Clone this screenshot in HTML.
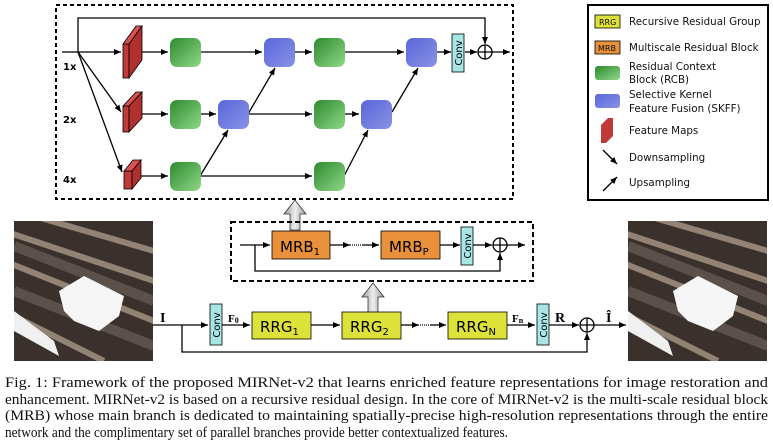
<!DOCTYPE html>
<html><head><meta charset="utf-8"><style>
html,body{margin:0;padding:0;background:#fff;width:773px;height:445px;overflow:hidden}
svg{display:block}
.s{font-family:"DejaVu Sans","Liberation Sans",sans-serif}
.cap{font-family:"Liberation Serif",serif;font-size:14.5px;fill:#111}
</style></head><body>
<svg width="773" height="445" viewBox="0 0 773 445" xmlns="http://www.w3.org/2000/svg">
<defs>
<marker id="a" markerWidth="8" markerHeight="8" refX="7" refY="4" orient="auto" markerUnits="userSpaceOnUse"><path d="M0,1 L7,4 L0,7 z" fill="#000"/></marker>
<linearGradient id="g" x1="0" y1="0" x2="1" y2="1"><stop offset="0" stop-color="#2d8a2d"/><stop offset="1" stop-color="#8fd88a"/></linearGradient>
<linearGradient id="b" x1="0" y1="0" x2="1" y2="1"><stop offset="0" stop-color="#5a66d8"/><stop offset="1" stop-color="#8892e6"/></linearGradient>
<linearGradient id="ga" x1="0" y1="0" x2="1" y2="0"><stop offset="0" stop-color="#999"/><stop offset="0.5" stop-color="#eee"/><stop offset="1" stop-color="#999"/></linearGradient>
<clipPath id="c"><rect x="0" y="0" width="139" height="140"/></clipPath>
<g id="img">
<g clip-path="url(#c)">
<rect x="0" y="0" width="139" height="140" fill="#3a302c"/>
<g stroke="#a89888" stroke-width="6" opacity="0.8">
<line x1="-10" y1="10" x2="140" y2="60"/><line x1="-10" y1="40" x2="140" y2="100"/><line x1="20" y1="-5" x2="140" y2="30"/><line x1="-10" y1="90" x2="90" y2="140"/>
</g>
<g stroke="#6a6058" stroke-width="10" opacity="0.7"><line x1="0" y1="25" x2="140" y2="80"/><line x1="0" y1="70" x2="140" y2="125"/></g>
<polygon points="45,70 70,55 110,75 105,95 85,110 60,100 50,90" fill="#f6f6f6"/>
<polygon points="0,90 40,120 45,135 0,110" fill="#f0f0f0"/>
</g>
</g>
</defs>

<rect x="56" y="5" width="457" height="194" fill="none" stroke="#000" stroke-width="2" stroke-dasharray="4,3"/>
<g fill="none" stroke="#000" stroke-width="1.3">
<polyline points="62,52 78,52"/>
<polyline points="78,52 78,18 485,18 485,44" marker-end="url(#a)"/>
<line x1="78" y1="52" x2="121" y2="52" marker-end="url(#a)"/>
<line x1="78" y1="52" x2="121" y2="112" marker-end="url(#a)"/>
<line x1="78" y1="52" x2="122" y2="172" marker-end="url(#a)"/>
<line x1="136" y1="52" x2="168" y2="52" marker-end="url(#a)"/>
<line x1="200" y1="52" x2="262" y2="52" marker-end="url(#a)"/>
<line x1="295" y1="52" x2="312" y2="52" marker-end="url(#a)"/>
<line x1="344" y1="52" x2="404" y2="52" marker-end="url(#a)"/>
<line x1="437" y1="52" x2="451" y2="52" marker-end="url(#a)"/>
<line x1="465" y1="52" x2="477" y2="52" marker-end="url(#a)"/>
<line x1="492" y1="52" x2="510" y2="52" marker-end="url(#a)"/>
<line x1="136" y1="114" x2="168" y2="114" marker-end="url(#a)"/>
<line x1="200" y1="114" x2="216" y2="114" marker-end="url(#a)"/>
<line x1="248" y1="114" x2="312" y2="114" marker-end="url(#a)"/>
<line x1="344" y1="114" x2="359" y2="114" marker-end="url(#a)"/>
<line x1="136" y1="176" x2="168" y2="176" marker-end="url(#a)"/>
<line x1="200" y1="176" x2="312" y2="176" marker-end="url(#a)"/>
<line x1="200" y1="176" x2="228" y2="130" marker-end="url(#a)"/>
<line x1="248" y1="114" x2="275" y2="68" marker-end="url(#a)"/>
<line x1="344" y1="176" x2="368" y2="130" marker-end="url(#a)"/>
<line x1="392" y1="112" x2="418" y2="68" marker-end="url(#a)"/>
</g>
<g stroke="#000" stroke-width="0.8">
<rect x="123" y="44" width="6" height="34" fill="#c03a3a"/><polygon points="129,44 142,26 142,60 129,78" fill="#b03030"/><polygon points="123,44 136,26 142,26 129,44" fill="#d85050"/>
<rect x="123" y="106" width="6" height="26" fill="#c03a3a"/><polygon points="129,106 142,92 142,118 129,132" fill="#b03030"/><polygon points="123,106 136,92 142,92 129,106" fill="#d85050"/>
<rect x="124" y="171" width="8" height="18" fill="#c03a3a"/><polygon points="132,171 141,160 141,178 132,189" fill="#b03030"/><polygon points="124,171 133,160 141,160 132,171" fill="#d85050"/>
</g>
<g fill="url(#g)">
<rect x="170" y="38" width="31" height="29" rx="7"/><rect x="314" y="38" width="31" height="29" rx="7"/>
<rect x="170" y="100" width="31" height="29" rx="7"/><rect x="314" y="100" width="31" height="29" rx="7"/>
<rect x="170" y="162" width="31" height="29" rx="7"/><rect x="314" y="162" width="31" height="29" rx="7"/>
</g>
<g fill="url(#b)">
<rect x="264" y="38" width="31" height="29" rx="7"/><rect x="406" y="38" width="31" height="29" rx="7"/>
<rect x="218" y="100" width="31" height="29" rx="7"/><rect x="361" y="100" width="31" height="29" rx="7"/>
</g>
<rect x="452" y="34" width="12" height="38" fill="#a8e6e6" stroke="#000" stroke-width="0.8"/>
<text class="s" font-size="10" transform="translate(462,53) rotate(-90)" text-anchor="middle" fill="#000">Conv</text>
<circle cx="485" cy="52" r="7" fill="#fff" stroke="#000" stroke-width="1.3"/><path d="M478,52h14M485,45v14" stroke="#000" stroke-width="1.3"/>
<g class="s" font-size="10" font-weight="bold"><text x="63" y="70">1x</text><text x="63" y="123">2x</text><text x="63" y="183">4x</text></g>

<rect x="588" y="5" width="180" height="195" fill="none" stroke="#000" stroke-width="2"/>
<g class="s" font-size="10.3" fill="#111">
<rect x="595" y="15" width="25" height="13" fill="#dde23a" stroke="#000" stroke-width="0.8"/><text x="599" y="25" font-size="8">RRG</text>
<text x="629" y="25">Recursive Residual Group</text>
<rect x="595" y="41" width="25" height="13" fill="#e8903a" stroke="#000" stroke-width="0.8"/><text x="598" y="51" font-size="8">MRB</text>
<text x="629" y="51">Multiscale Residual Block</text>
<rect x="595" y="66" width="25" height="14" rx="3" fill="url(#g)"/>
<text x="629" y="70">Residual Context</text><text x="629" y="83">Block (RCB)</text>
<rect x="595" y="94" width="25" height="14" rx="3" fill="url(#b)"/>
<text x="629" y="98">Selective Kernel</text><text x="629" y="112">Feature Fusion (SKFF)</text>
<polygon points="601,125 608,118 613,118 613,136 606,143 601,143" fill="#c03a3a"/>
<text x="629" y="134">Feature Maps</text>
<line x1="603" y1="150" x2="617" y2="164" stroke="#000" stroke-width="1.3" marker-end="url(#a)"/>
<text x="629" y="161">Downsampling</text>
<line x1="603" y1="191" x2="617" y2="177" stroke="#000" stroke-width="1.3" marker-end="url(#a)"/>
<text x="629" y="186">Upsampling</text>
</g>

<polygon points="290,214 290,230 300,230 300,214 306,214 295,200 284,214" fill="url(#ga)" stroke="#333" stroke-width="0.8"/>
<rect x="231" y="222" width="302" height="59" fill="none" stroke="#000" stroke-width="2" stroke-dasharray="5,3"/>
<g fill="none" stroke="#000" stroke-width="1.3">
<line x1="240" y1="245" x2="270" y2="245" marker-end="url(#a)"/>
<polyline points="255,245 255,271 500,271 500,253" marker-end="url(#a)"/>
<line x1="330" y1="245" x2="350" y2="245" marker-end="url(#a)"/>
<line x1="350" y1="245" x2="362" y2="245" stroke-dasharray="1,1"/>
<line x1="362" y1="245" x2="379" y2="245" marker-end="url(#a)"/>
<line x1="440" y1="245" x2="460" y2="245" marker-end="url(#a)"/>
<line x1="473" y1="245" x2="492" y2="245" marker-end="url(#a)"/>
<line x1="507" y1="245" x2="525" y2="245" marker-end="url(#a)"/>
</g>
<rect x="272" y="231" width="58" height="28" fill="#e8903a" stroke="#000" stroke-width="0.8"/>
<rect x="381" y="231" width="59" height="28" fill="#e8903a" stroke="#000" stroke-width="0.8"/>
<text class="s" x="280" y="252" font-size="15">MRB<tspan font-size="10" dy="3">1</tspan></text>
<text class="s" x="389" y="252" font-size="15">MRB<tspan font-size="10" dy="3">P</tspan></text>
<rect x="461" y="227" width="12" height="38" fill="#a8e6e6" stroke="#000" stroke-width="0.8"/>
<text class="s" font-size="10" transform="translate(471,246) rotate(-90)" text-anchor="middle">Conv</text>
<circle cx="500" cy="245" r="7" fill="#fff" stroke="#000" stroke-width="1.3"/><path d="M493,245h14M500,238v14" stroke="#000" stroke-width="1.3"/>

<polygon points="368,297 368,313 378,313 378,297 384,297 373,283 362,297" fill="url(#ga)" stroke="#333" stroke-width="0.8"/>

<g fill="none" stroke="#000" stroke-width="1.3">
<line x1="153" y1="325" x2="208" y2="325" marker-end="url(#a)"/>
<polyline points="182,325 182,352 587,352 587,333" marker-end="url(#a)"/>
<line x1="222" y1="325" x2="250" y2="325" marker-end="url(#a)"/>
<line x1="311" y1="325" x2="340" y2="325" marker-end="url(#a)"/>
<line x1="401" y1="325" x2="419" y2="325" marker-end="url(#a)"/>
<line x1="420" y1="325" x2="430" y2="325" stroke-dasharray="1,1"/>
<line x1="430" y1="325" x2="446" y2="325" marker-end="url(#a)"/>
<line x1="507" y1="325" x2="535" y2="325" marker-end="url(#a)"/>
<line x1="549" y1="325" x2="579" y2="325" marker-end="url(#a)"/>
<line x1="594" y1="325" x2="626" y2="325" marker-end="url(#a)"/>
</g>
<rect x="210" y="304" width="12" height="41" fill="#a8e6e6" stroke="#000" stroke-width="0.8"/>
<text class="s" font-size="10" transform="translate(220,325) rotate(-90)" text-anchor="middle">Conv</text>
<rect x="537" y="304" width="12" height="41" fill="#a8e6e6" stroke="#000" stroke-width="0.8"/>
<text class="s" font-size="10" transform="translate(547,325) rotate(-90)" text-anchor="middle">Conv</text>
<g fill="#dde23a" stroke="#000" stroke-width="0.8">
<rect x="252" y="312" width="59" height="27"/><rect x="342" y="312" width="59" height="27"/><rect x="448" y="312" width="59" height="27"/>
</g>
<g class="s" font-size="15">
<text x="260" y="332">RRG<tspan font-size="10" dy="3">1</tspan></text>
<text x="350" y="332">RRG<tspan font-size="10" dy="3">2</tspan></text>
<text x="456" y="332">RRG<tspan font-size="10" dy="3">N</tspan></text>
</g>
<circle cx="587" cy="325" r="7" fill="#fff" stroke="#000" stroke-width="1.3"/><path d="M580,325h14M587,318v14" stroke="#000" stroke-width="1.3"/>
<g font-family="Liberation Serif,serif" font-weight="bold">
<text x="160" y="322" font-size="14">I</text>
<text x="228" y="322" font-size="11">F<tspan font-size="8" dy="1">0</tspan></text>
<text x="512" y="322" font-size="11">F<tspan font-size="8" dy="1">n</tspan></text>
<text x="555" y="322" font-size="14">R</text>
<text x="606" y="322" font-size="14">Î</text>
</g>

<use href="#img" x="14" y="221"/>
<use href="#img" x="628" y="221"/>

<text class="cap" x="5" y="387" textLength="763" lengthAdjust="spacingAndGlyphs">Fig. 1: Framework of the proposed MIRNet-v2 that learns enriched feature representations for image restoration and</text>
<text class="cap" x="5" y="404" textLength="763" lengthAdjust="spacingAndGlyphs">enhancement. MIRNet-v2 is based on a recursive residual design. In the core of MIRNet-v2 is the multi-scale residual block</text>
<text class="cap" x="5" y="420" textLength="763" lengthAdjust="spacingAndGlyphs">(MRB) whose main branch is dedicated to maintaining spatially-precise high-resolution representations through the entire</text>
<text class="cap" x="5" y="437" textLength="503" lengthAdjust="spacingAndGlyphs">network and the complimentary set of parallel branches provide better contextualized features.</text>
</svg>
</body></html>
